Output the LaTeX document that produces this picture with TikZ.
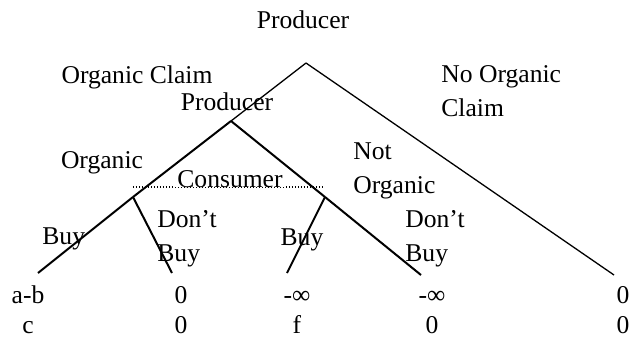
\documentclass[tikz,border=0pt]{standalone}
\usepackage{fontspec}
\setmainfont{Liberation Serif}
\begin{document}
\begin{tikzpicture}[x=0.5pt, y=-0.5pt, every node/.style={font=\fontsize{12.8}{17}\selectfont, inner sep=0pt}]
        \tikzstyle{lbl} = [anchor=base]
        \tikzstyle{lbltwo} = [anchor=north west, align=left]
        \tikzstyle{pay} = [anchor=north, align=center, font=\fontsize{12.8}{15}\selectfont]
        \tikzstyle{thinedge} = [line width=0.65pt]
        \tikzstyle{thickedge} = [line width=1pt]
        \useasboundingbox (0,0) rectangle (634,339);
        \coordinate (R) at (306,63);
        \coordinate (P) at (231,121);
        \coordinate (C1) at (133,197);
        \coordinate (C2) at (325,197);
        \coordinate (L1) at (38,273);
        \coordinate (L2) at (172,273);
        \coordinate (L3) at (287,273);
        \coordinate (L4) at (421,275);
        \coordinate (L5) at (614,275);
        \coordinate (I1) at (133,187);
        \coordinate (I2) at (323,187);
        \draw[thinedge] (R) -- (P);
        \draw[thinedge] (R) -- (L5);
        \draw[thickedge] (P) -- (C1);
        \draw[thickedge] (P) -- (C2);
        \draw[thickedge] (C1) -- (L1);
        \draw[thickedge] (C1) -- (L2);
        \draw[thickedge] (C2) -- (L3);
        \draw[thickedge] (C2) -- (L4);
        \draw[line width=0.6pt, dash pattern=on 0.6pt off 0.9pt] (I1) -- (I2);
        \node[lbl] (top) at (303,28) {Producer};
        \node[lbl] (claim) at (137,83) {Organic Claim};
        \node[lbltwo] (noclaim) at (441,65) {No Organic\\Claim};
        \node[lbl] (prod) at (227,110) {Producer};
        \node[lbltwo] (notorg) at (353,142) {Not\\Organic};
        \node[lbl] (org) at (102,168) {Organic};
        \node[lbl, fill=white, inner xsep=1pt] (cons) at (230,187) {Consumer};
        \node[lbl, anchor=base west] (buya) at (42,244) {Buy};
        \node[lbltwo] (dontbuya) at (157,210) {Don’t\\Buy};
        \node[lbl] (buyb) at (302,245) {Buy};
        \node[lbltwo] (dontbuyb) at (405,210) {Don’t\\Buy};
        \node[pay] (u1) at (28,282) {\strut a-b\\c};
        \node[pay] (u2) at (181,282) {\strut 0\\0};
        \node[pay] (u3) at (297,282) {\strut -∞\\f};
        \node[pay] (u4) at (432,282) {\strut -∞\\0};
        \node[pay] (u5) at (623,282) {\strut 0\\0};
\end{tikzpicture}
\end{document}
